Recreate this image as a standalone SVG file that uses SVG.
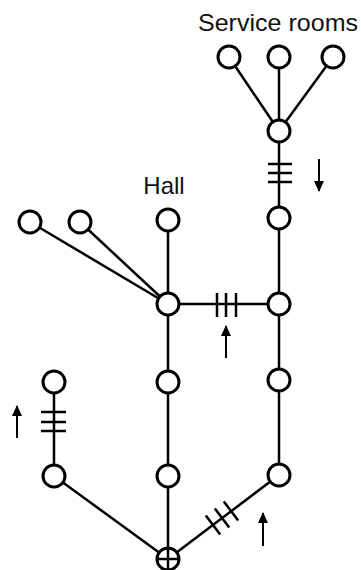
<svg xmlns="http://www.w3.org/2000/svg" width="361" height="570" viewBox="0 0 361 570">
<style>
.e{stroke:#000;stroke-width:2.5;fill:none}
.t{stroke:#000;stroke-width:2.5;fill:none}
.a{stroke:#000;stroke-width:2;fill:none}
.n{fill:#fff;stroke:#000;stroke-width:3}
.lbl{font-family:"Liberation Sans",Arial,sans-serif;font-size:24px;fill:#111}
</style>
<defs>
<marker id="ah" markerWidth="12" markerHeight="12" refX="10" refY="5.5" orient="auto" markerUnits="userSpaceOnUse">
<path d="M0,0.5 L11,5.5 L0,10.5 Z" fill="#000"/>
</marker>
</defs>
<rect width="361" height="570" fill="#fff"/>
<g id="connectors">
<line class="e" x1="229" y1="57" x2="279" y2="131"/>
<line class="e" x1="279" y1="57" x2="279" y2="131"/>
<line class="e" x1="333" y1="57" x2="279" y2="131"/>
<line class="e" x1="279" y1="131" x2="279" y2="218"/>
<line class="e" x1="279" y1="218" x2="279" y2="304"/>
<line class="e" x1="279" y1="304" x2="279" y2="380"/>
<line class="e" x1="279" y1="380" x2="279" y2="475"/>
<line class="e" x1="279" y1="475" x2="168" y2="559"/>
<line class="e" x1="168" y1="304" x2="279" y2="304"/>
<line class="e" x1="168" y1="304" x2="168" y2="220"/>
<line class="e" x1="168" y1="304" x2="30" y2="222"/>
<line class="e" x1="168" y1="304" x2="80" y2="222"/>
<line class="e" x1="168" y1="304" x2="168" y2="382"/>
<line class="e" x1="168" y1="382" x2="168" y2="476"/>
<line class="e" x1="168" y1="476" x2="168" y2="559"/>
<line class="e" x1="54" y1="382" x2="54" y2="476"/>
<line class="e" x1="54" y1="476" x2="168" y2="559"/>
<!-- tick marks -->
<path class="t" d="M268,164 H292 M268,173 H292 M268,182 H292"/>
<path class="t" d="M217,293 V317 M226,293 V317 M236,293 V317"/>
<path class="t" d="M41,412 H66 M41,422 H66 M41,431 H66"/>
<path class="t" d="M205.8,515.4 L220.2,534.6 M214.8,508.4 L229.2,527.6 M223.8,501.4 L238.2,520.6"/>
<!-- direction arrows -->
<line class="a" x1="319" y1="159" x2="319" y2="191" marker-end="url(#ah)"/>
<line class="a" x1="226" y1="358" x2="226" y2="326" marker-end="url(#ah)"/>
<line class="a" x1="17" y1="438" x2="17" y2="406" marker-end="url(#ah)"/>
<line class="a" x1="263" y1="546" x2="263" y2="513" marker-end="url(#ah)"/>
</g>
<g id="s1"><circle class="n" cx="229" cy="57" r="11"/></g>
<g id="s2"><circle class="n" cx="279" cy="57" r="11"/></g>
<g id="s3"><circle class="n" cx="333" cy="57" r="11"/></g>
<g id="hub"><circle class="n" cx="279" cy="131" r="11"/></g>
<g id="r1"><circle class="n" cx="279" cy="218" r="11"/></g>
<g id="jR"><circle class="n" cx="279" cy="304" r="11"/></g>
<g id="r2"><circle class="n" cx="279" cy="380" r="11"/></g>
<g id="r3"><circle class="n" cx="279" cy="475" r="11"/></g>
<g id="hall"><circle class="n" cx="168" cy="220" r="11"/></g>
<g id="l1"><circle class="n" cx="30" cy="222" r="11"/></g>
<g id="l2"><circle class="n" cx="80" cy="222" r="11"/></g>
<g id="jL"><circle class="n" cx="168" cy="304" r="11"/></g>
<g id="m1"><circle class="n" cx="168" cy="382" r="11"/></g>
<g id="m2"><circle class="n" cx="168" cy="476" r="11"/></g>
<g id="a1"><circle class="n" cx="54" cy="382" r="11"/></g>
<g id="a2"><circle class="n" cx="54" cy="476" r="11"/></g>
<g id="root"><circle class="n" cx="168" cy="559" r="11"/><path class="t" d="M157,559 H179 M168,548 V570"/></g>
<g id="labels">
<text class="lbl" x="278" y="31" text-anchor="middle" textLength="160" lengthAdjust="spacingAndGlyphs">Service rooms</text>
<text class="lbl" x="164" y="194" text-anchor="middle">Hall</text>
</g>
</svg>
